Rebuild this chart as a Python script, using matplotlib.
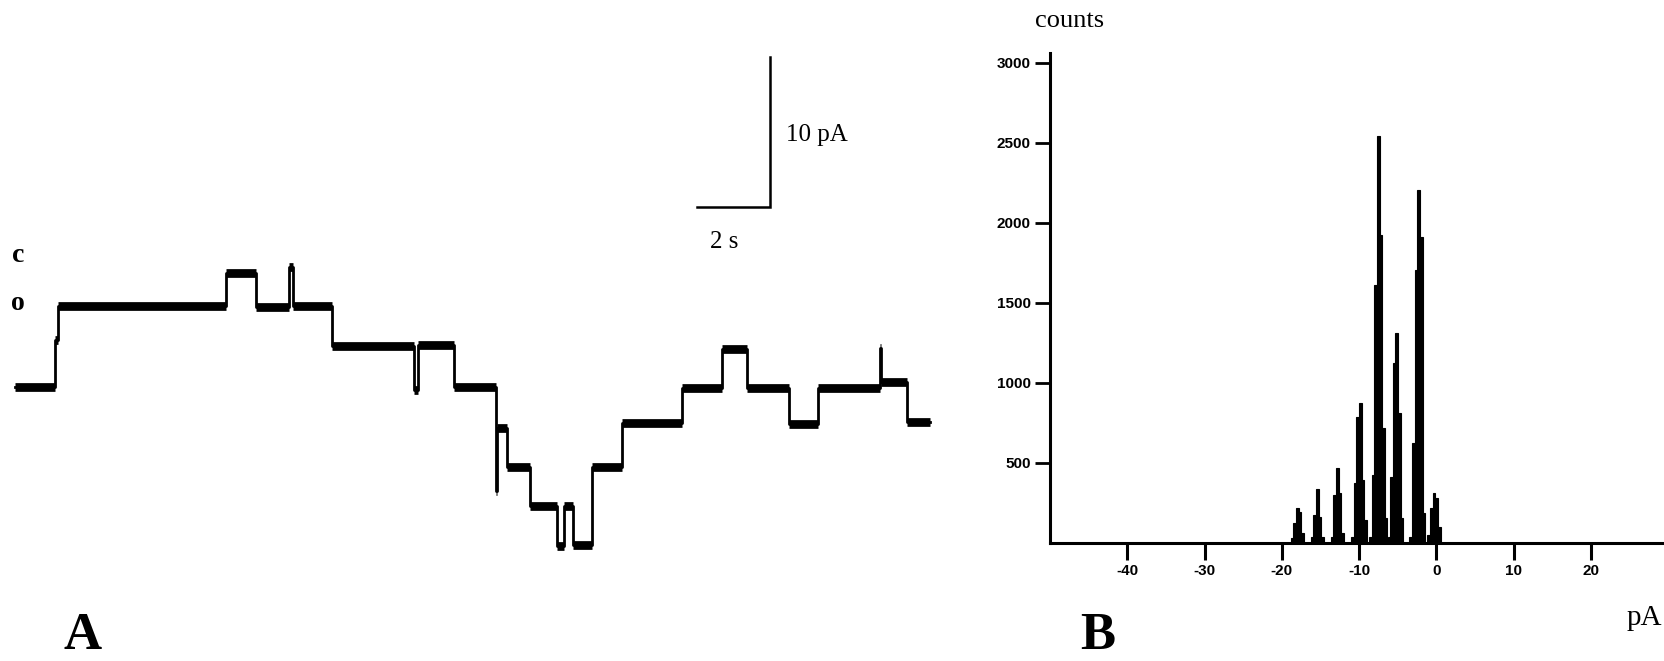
import matplotlib.pyplot as plt

W, H = 1665, 661

# panel A: single channel record, step levels (pA) and the times (s) they start
step_times = [0.0, 1.10, 1.18, 5.78, 6.60, 7.51, 7.62, 8.68, 10.93, 11.04, 12.03,
              13.18, 13.21, 13.48, 14.11, 14.85, 15.04, 15.29, 15.81, 16.63, 18.27,
              19.37, 20.05, 21.21, 22.00, 23.70, 23.73, 24.44, 25.07]
step_levels = [-7.6, -4.5, -2.2, 0.0, -2.3, 0.4, -2.2, -4.9, -7.8, -4.8, -7.6,
               -14.5, -10.3, -12.9, -15.5, -18.2, -15.5, -18.1, -12.9, -10.0, -7.7,
               -5.1, -7.7, -10.1, -7.7, -5.0, -7.3, -9.9, -9.9]

# panel B: amplitude histogram, bin centres (pA) and counts
bin_centers = [-18.66, -18.33, -18.00, -17.67, -17.34,
               -16.06, -15.73, -15.40, -15.07, -14.74,
               -13.46, -13.13, -12.80, -12.47, -12.14,
               -10.82, -10.49, -10.16, -9.83, -9.50, -9.17,
               -8.49, -8.16, -7.83, -7.50, -7.17, -6.84, -6.51,
               -6.09, -5.76, -5.43, -5.10, -4.77, -4.44,
               -3.29, -2.96, -2.63, -2.30, -1.97, -1.64,
               -0.96, -0.63, -0.30, 0.03, 0.36]
counts = [30, 125, 219, 194, 62,
          40, 175, 337, 162, 40,
          40, 300, 469, 310, 62,
          40, 375, 787, 875, 394, 144,
          40, 425, 1612, 2544, 1925, 719, 156,
          40, 412, 1125, 1312, 812, 156,
          40, 625, 1706, 2206, 1912, 187,
          50, 219, 312, 281, 100]
x_ticks = [-40, -30, -20, -10, 0, 10, 20]
y_ticks = [500, 1000, 1500, 2000, 2500, 3000]

SERIF = ["Liberation Serif", "DejaVu Serif"]
SANS = ["Liberation Sans Narrow", "Liberation Sans", "DejaVu Sans"]


def px_axes(fig, left, top, right, bottom):
    return fig.add_axes([left / W, 1 - bottom / H, (right - left) / W, (bottom - top) / H])


def px_text(fig, x, y, s, **kw):
    fig.text(x / W, 1 - y / H, s, **kw)


fig = plt.figure(figsize=(W / 100, H / 100), dpi=100)

# trace: 36.5 px per s, 15 px per pA, t=0 at x=15, 0 pA at y=273
ax = px_axes(fig, 0, 0, 1000, H)
# thin transitions, thick (noisy) levels
ax.plot(step_times, step_levels, drawstyle="steps-post", color="black", lw=2.0)
ax.hlines(step_levels[:-1], step_times[:-1], step_times[1:], color="black",
          lw=6.3, capstyle="butt")
ax.set_xlim(-15 / 36.5, 985 / 36.5)
ax.set_ylim((273 - H) / 15, 273 / 15)
ax.axis("off")

# scale bar 2 s / 10 pA
bar_t, bar_i = 18.68, 4.42
ax.plot([bar_t, bar_t + 2, bar_t + 2], [bar_i, bar_i, bar_i + 10],
        color="black", lw=1.8, solid_joinstyle="miter")

px_text(fig, 786, 141, "10 pA", fontsize=18, family=SERIF, va="baseline")
px_text(fig, 710, 248, "2 s", fontsize=18, family=SERIF, va="baseline")
px_text(fig, 12, 262, "c", fontsize=20, family=SERIF, weight="bold", va="baseline")
px_text(fig, 11, 310, "o", fontsize=20, family=SERIF, weight="bold", va="baseline")
px_text(fig, 64, 649, "A", fontsize=38, family=SERIF, weight="bold", va="baseline")

# histogram
hx = px_axes(fig, 1050, 53, W, 543)
hx.bar(bin_centers, counts, width=0.38, color="black", edgecolor="black", linewidth=0.8)
hx.set_xlim(-50, 29.6)
hx.set_ylim(0, 3062)
hx.set_xticks(x_ticks)
hx.set_yticks(y_ticks)
hx.set_xticklabels([str(v) for v in x_ticks], family=SANS, weight="bold", fontsize=11)
hx.set_yticklabels([str(v) for v in y_ticks], family=SANS, weight="bold", fontsize=11)
hx.tick_params(axis="x", direction="out", length=12, width=2.2, pad=3)
hx.tick_params(axis="y", direction="out", length=11, width=2.0, pad=3)
for side in ["top", "right"]:
    hx.spines[side].set_visible(False)
for side in ["left", "bottom"]:
    hx.spines[side].set_linewidth(2.2)
hx.patch.set_visible(False)

px_text(fig, 1035, 27, "counts", fontsize=19, family=SERIF, va="baseline")
px_text(fig, 1627, 625, "pA", fontsize=21, family=SERIF, va="baseline")
px_text(fig, 1080, 649, "B", fontsize=38, family=SERIF, weight="bold", va="baseline")

plt.savefig("out.png", dpi=100)
plt.close()
